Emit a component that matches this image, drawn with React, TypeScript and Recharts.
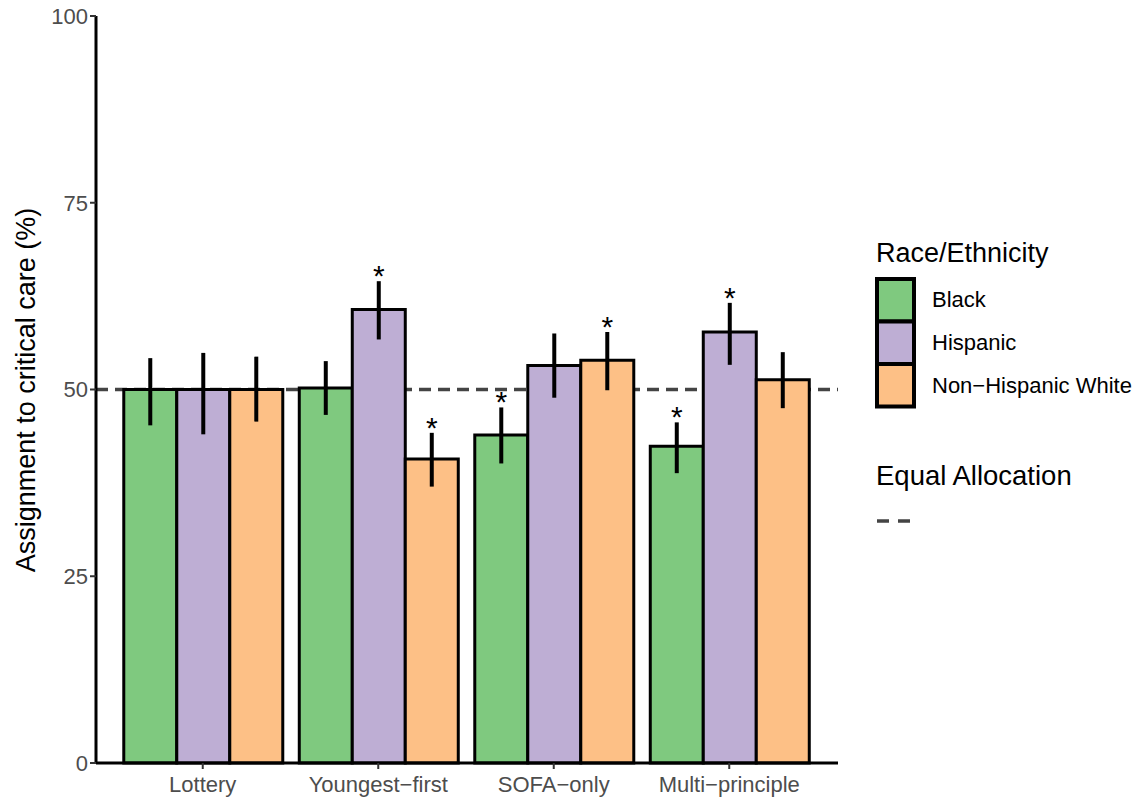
import {
  BarChart,
  Bar,
  XAxis,
  YAxis,
  ErrorBar,
  LabelList,
  ReferenceLine,
} from "recharts";

const categories = ["Lottery", "Youngest\u2212first", "SOFA\u2212only", "Multi\u2212principle"];

const blackPct = [50, 50.2, 43.9, 42.4];
const blackLow = [45.2, 46.6, 40.1, 38.8];
const blackHigh = [54.2, 53.8, 47.6, 45.6];
const blackStar = [false, false, true, true];

const hispanicPct = [50, 60.7, 53.2, 57.7];
const hispanicLow = [44.0, 56.7, 48.9, 53.3];
const hispanicHigh = [54.9, 64.5, 57.5, 61.6];
const hispanicStar = [false, true, false, true];

const whitePct = [50, 40.7, 53.9, 51.3];
const whiteLow = [45.7, 37.0, 49.9, 47.5];
const whiteHigh = [54.4, 44.2, 57.7, 55.0];
const whiteStar = [false, true, true, false];

const yTicks = [0, 25, 50, 75, 100];

const groups = [
  { key: "black", name: "Black", color: "#7FC97F", pct: blackPct, low: blackLow, high: blackHigh, star: blackStar },
  { key: "hispanic", name: "Hispanic", color: "#BEAED4", pct: hispanicPct, low: hispanicLow, high: hispanicHigh, star: hispanicStar },
  { key: "white", name: "Non\u2212Hispanic White", color: "#FDC086", pct: whitePct, low: whiteLow, high: whiteHigh, star: whiteStar },
];

const rows = categories.map((category, i) => {
  const row: { [key: string]: any } = { category };
  groups.forEach((g) => {
    row[g.key] = g.pct[i];
    row[g.key + "Err"] = [g.pct[i] - g.low[i], g.high[i] - g.pct[i]];
  });
  return row;
});

const FONT = "'Liberation Sans', Arial, sans-serif";

function App() {
  // asterisk sits just above the top of the error bar
  const starLabel = (gi: number) => (props: any) => {
    const g = groups[gi];
    const index = props.index;
    if (!g.star[index]) return null;
    const vb = props.viewBox || props;
    const x = props.x ?? vb.x;
    const y = props.y ?? vb.y;
    const width = props.width ?? vb.width;
    const height = props.height ?? vb.height;
    const v = g.pct[index];
    const pxPer = height / v;
    const top = y - (g.high[index] - v) * pxPer;
    return (
      <text x={x + width / 2} y={top + 5} textAnchor="middle" fontSize={30} fontFamily={FONT} fill="#000">
        *
      </text>
    );
  };

  return (
    <div style={{ position: "absolute", left: 0, top: 0, width: 1135, height: 799, fontFamily: FONT }}>
      <BarChart
        width={1135}
        height={799}
        data={rows}
        margin={{ top: 16, right: 297, bottom: 0, left: 36 }}
        barGap={0}
        barCategoryGap="5%"
      >
        <ReferenceLine y={50} stroke="#444" strokeWidth={3.5} strokeDasharray="12 7" zIndex={-50} />
        <XAxis
          dataKey="category"
          height={36}
          padding={{ left: 19, right: 21 }}
          axisLine={{ stroke: "#000", strokeWidth: 3 }}
          tickLine={{ stroke: "#333", strokeWidth: 2 }}
          tickSize={6}
          tickMargin={7}
          tick={{ fill: "#4d4d4d", fontSize: 22, fontFamily: FONT }}
        />
        <YAxis
          width={60}
          domain={[0, 100]}
          ticks={yTicks}
          axisLine={{ stroke: "#000", strokeWidth: 3 }}
          tickLine={{ stroke: "#333", strokeWidth: 2 }}
          tickSize={6}
          tick={{ fill: "#4d4d4d", fontSize: 22, fontFamily: FONT }}
        />
        {groups.map((g, gi) => (
          <Bar
            key={g.key}
            dataKey={g.key}
            name={g.name}
            fill={g.color}
            stroke="#000"
            strokeWidth={3}
            isAnimationActive={false}
          >
            <ErrorBar dataKey={g.key + "Err"} width={0} stroke="#000" strokeWidth={4} direction="y" />
            <LabelList dataKey={g.key} content={starLabel(gi)} />
          </Bar>
        ))}
      </BarChart>

      <svg width={1135} height={799} style={{ position: "absolute", left: 0, top: 0, pointerEvents: "none" }}>
        <text
          x={35}
          y={390}
          transform="rotate(-90, 35, 390)"
          textAnchor="middle"
          fontSize={27}
          fontFamily={FONT}
          fill="#000"
        >
          Assignment to critical care (%)
        </text>

        <text x={876} y={262} fontSize={27} fontFamily={FONT} fill="#000">
          Race/Ethnicity
        </text>
        {groups.map((g, i) => (
          <g key={g.key}>
            <rect x={877} y={279 + i * 42.5} width={37} height={42.5} fill={g.color} stroke="#000" strokeWidth={4} />
            <text x={932} y={307 + i * 43} fontSize={22} fontFamily={FONT} fill="#000">
              {g.name}
            </text>
          </g>
        ))}

        <text x={876} y={485} fontSize={27.5} fontFamily={FONT} fill="#000">
          Equal Allocation
        </text>
        <line x1={877} y1={521} x2={913} y2={521} stroke="#444" strokeWidth={3.5} strokeDasharray="12 9" />
      </svg>
    </div>
  );
}

export default App;
